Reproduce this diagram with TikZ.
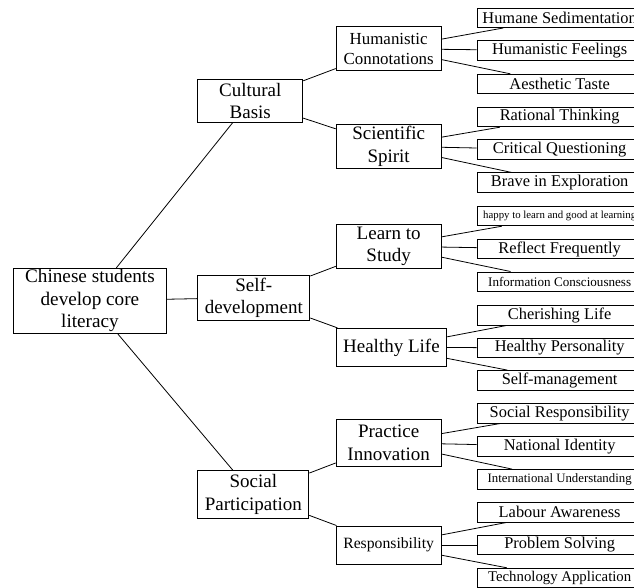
\documentclass[tikz,border=0pt]{standalone}
\usepackage{fontspec}
\setmainfont{Liberation Serif}
\usetikzlibrary{positioning}

\tikzset{
  box/.style={draw, line width=0.9pt, align=center, inner xsep=7pt, inner ysep=0pt},
  core/.style={box, anchor=west, minimum width=152.4, minimum height=65, font=\fontsize{19.2}{22.5}\selectfont},
  dim/.style={box, anchor=west, minimum width=105, font=\fontsize{19}{22.3}\selectfont},
  aspect/.style={box, anchor=west, minimum width=105, font=\fontsize{19}{22.3}\selectfont},
  point/.style={box, anchor=west, minimum width=165, minimum height=19.5, inner xsep=2pt, font=\fontsize{16.4}{18}\selectfont},
  link/.style={-, line width=0.8pt}
}

\begin{document}
\begin{tikzpicture}[x=1pt,y=-1pt]
   \path[use as bounding box, fill=white] (0,0) rectangle (634,588);
   \clip (0,0) rectangle (634,588);

   \draw (13.3,300.8) node[core] (literacy) {Chinese students\\develop core\\literacy};

    \draw (197.3,100.7) node[dim, minimum height=43.3] (cultural) {Cultural\\Basis};
    \draw (197.3,297.5) node[dim, minimum height=45] (selfdev) {Self-\\development};
    \draw (197.3,494.5) node[dim, minimum height=47.6] (social) {Social\\Participation};

    \draw (335.7,48.7) node[aspect, minimum height=44, font=\fontsize{16.9}{20}\selectfont] (humanistic) {Humanistic\\Connotations};
    \draw (335.7,146.2) node[aspect, minimum height=44.3] (scientific) {Scientific\\Spirit};
    \draw (335.7,246.2) node[aspect, minimum height=44.3] (learn) {Learn to\\Study};
    \draw (335.7,347.5) node[aspect, minimum height=38.4] (healthy) {Healthy Life};
    \draw (335.7,442.7) node[aspect, minimum height=46.7] (practice) {Practice\\Innovation};
    \draw (335.7,545) node[aspect, minimum height=38, font=\fontsize{15.7}{18}\selectfont] (responsibility) {Responsibility};

  \draw (476.7,17.8) node[point] (sedimentation) {Humane Sedimentation};
  \draw (476.7,50.7) node[point] (feelings) {Humanistic Feelings};
  \draw (476.7,84) node[point] (taste) {Aesthetic Taste};
  \draw (476.7,117) node[point] (rational) {Rational Thinking};
  \draw (476.7,149.7) node[point] (critical) {Critical Questioning};
  \draw (476.7,182.7) node[point] (brave) {Brave in Exploration};
  \draw (476.7,216) node[point, font=\fontsize{10.8}{12}\selectfont] (happy) {happy to learn and good at learning};
  \draw (476.7,249) node[point] (reflect) {Reflect Frequently};
  \draw (476.7,281.7) node[point, font=\fontsize{13.1}{15}\selectfont] (information) {Information Consciousness};
  \draw (476.7,315.3) node[point] (cherishing) {Cherishing Life};
  \draw (476.7,347.7) node[point] (personality) {Healthy Personality};
  \draw (476.7,380.3) node[point] (selfman) {Self-management};
  \draw (476.7,413.3) node[point] (socialresp) {Social Responsibility};
  \draw (476.7,446.3) node[point] (national) {National Identity};
  \draw (476.7,479.3) node[point, font=\fontsize{12.8}{15}\selectfont] (international) {International Understanding};
  \draw (476.7,512.3) node[point] (labour) {Labour Awareness};
  \draw (476.7,545) node[point] (problem) {Problem Solving};
  \draw (476.7,578) node[point, font=\fontsize{14.8}{17}\selectfont] (technology) {Technology Application};

       \path[link] (literacy) edge (cultural);
       \path[link] (literacy) edge (selfdev);
       \path[link] (literacy) edge (social);

       \path[link] (cultural) edge (humanistic);
       \path[link] (cultural) edge (scientific);
       \path[link] (selfdev) edge (learn);
       \path[link] (selfdev) edge (healthy);
       \path[link] (social) edge (practice);
       \path[link] (social) edge (responsibility);

       \path[link] (humanistic) edge (sedimentation);
       \path[link] (humanistic) edge (feelings);
       \path[link] (humanistic) edge (taste);
       \path[link] (scientific) edge (rational);
       \path[link] (scientific) edge (critical);
       \path[link] (scientific) edge (brave);
       \path[link] (learn) edge (happy);
       \path[link] (learn) edge (reflect);
       \path[link] (learn) edge (information);
       \path[link] (healthy) edge (cherishing);
       \path[link] (healthy) edge (personality);
       \path[link] (healthy) edge (selfman);
       \path[link] (practice) edge (socialresp);
       \path[link] (practice) edge (national);
       \path[link] (practice) edge (international);
       \path[link] (responsibility) edge (labour);
       \path[link] (responsibility) edge (problem);
       \path[link] (responsibility) edge (technology);

\end{tikzpicture}
\end{document}
